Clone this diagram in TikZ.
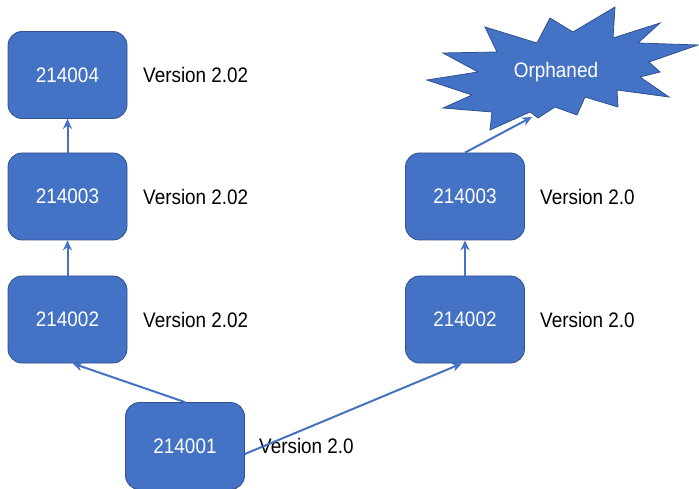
\documentclass[tikz,border=0pt]{standalone}
\usepackage{fontspec}
\setmainfont[FakeStretch=0.9]{Liberation Sans}
\usetikzlibrary{arrows.meta,calc}
\definecolor{boxblue}{HTML}{4472C4}
\definecolor{boxedge}{HTML}{2F528F}
\begin{document}
\begin{tikzpicture}[x=1pt,y=-1pt,
  box/.style={draw=boxedge,line width=0.8pt,fill=boxblue,rounded corners=14pt,
    minimum width=119pt,minimum height=87pt,text=white,font=\fontsize{21}{25}\selectfont,inner sep=0pt},
  lbl/.style={anchor=west,inner sep=0pt,font=\fontsize{21}{25}\selectfont,text=black},
  conn/.style={draw=boxblue,line width=2pt,-{Stealth[length=10pt,width=9pt]}}]
\useasboundingbox (0,0) rectangle (699,489);
% left column
\node[box] (l4) at (67.5,75) {214004};
\node[box] (l3) at (67.5,196.5) {214003};
\node[box] (l2) at (67.5,319.5) {214002};
% bottom
\node[box] (b) at (185,446) {214001};
% right column
\node[box] (r3) at (465,196.5) {214003};
\node[box] (r2) at (465,319.5) {214002};
% labels
\node[lbl] (t4) at (143,75) {Version 2.02};
\node[lbl] (t3) at (143,196.5) {Version 2.02};
\node[lbl] (t2) at (143,319.5) {Version 2.02};
\node[lbl] (tb) at (259,446) {Version 2.0};
\node[lbl] (tr3) at (540,196.5) {Version 2.0};
\node[lbl] (tr2) at (540,319.5) {Version 2.0};
% starburst
\draw[draw=boxedge,line width=0.8pt,fill=boxblue,line join=miter]
 (427,80) -- (478,72) -- (443,53) -- (497,52) -- (485,27) -- (537,43) -- (550,18) -- (573,32)
 -- (615,7) -- (613,38) -- (660,23) -- (638,43) -- (698,45) -- (649,62) -- (660,72) -- (640,77)
 -- (669,97) -- (617,90) -- (618,107) -- (585,97) -- (577,115) -- (555,107) -- (538,118)
 -- (530,112) -- (490,130) -- (492,112) -- (443,108) -- (472,95) -- cycle;
\node[text=white,font=\fontsize{21}{25}\selectfont,inner sep=0pt] (orph) at (556,72) {Orphaned};
\coordinate (orphtip) at (532,117);
% connectors
\draw[conn] (l3.north) -- (l4.south);
\draw[conn] (l2.north) -- (l3.south);
\draw[conn] (b.north) -- ([xshift=5pt]l2.south);
\draw[conn] ([yshift=-8pt]b.east) -- ([xshift=-3pt]r2.south);
\draw[conn] (r2.north) -- (r3.south);
\draw[conn] (r3.north) -- (orphtip);
\end{tikzpicture}
\end{document}
